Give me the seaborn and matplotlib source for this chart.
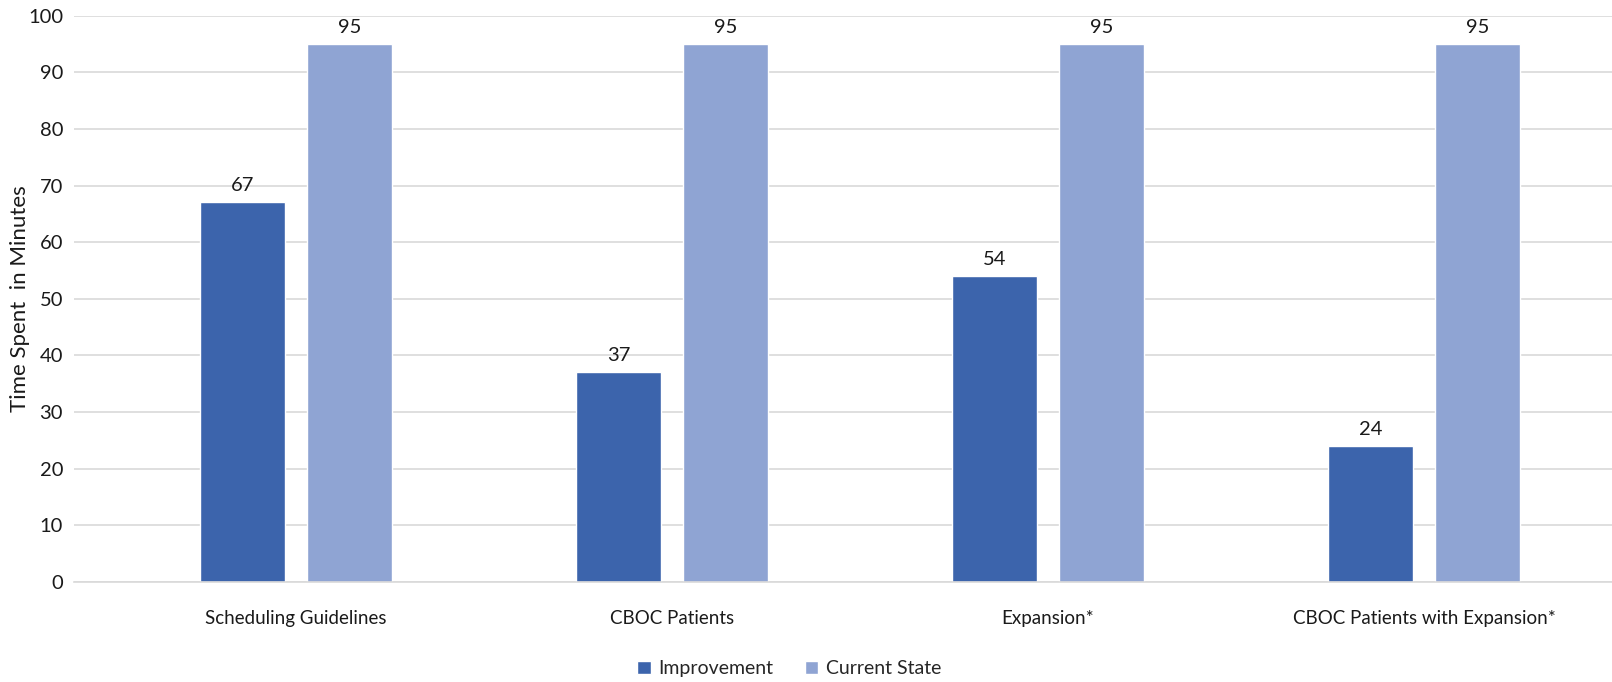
import pandas as pd
import numpy as np
import seaborn as sns
import matplotlib
matplotlib.use('Agg')
from matplotlib import pyplot as plt

categories = ['Scheduling Guidelines', 'CBOC Patients', 'Expansion*', 'CBOC Patients with Expansion*']
improvement = [67, 37, 54, 24]
current_state = [95, 95, 95, 95]
series = ['Improvement', 'Current State']
colors = ['#3C64AC', '#8FA4D3']

df = pd.DataFrame({
    'category': categories * 2,
    'value': improvement + current_state,
    'series': [series[0]] * 4 + [series[1]] * 4,
})

sns.set_style('white')
plt.rcParams['font.family'] = ['Lato', 'DejaVu Sans']

fig = plt.figure(figsize=(16.12, 6.82), dpi=100)
ax = fig.add_axes([0.046, 0.147, 0.954, 0.83])

sns.barplot(data=df, x='category', y='value', hue='series',
            palette=colors, width=0.57, gap=0.21, ax=ax,
            saturation=1, legend=True)

for c in ax.containers:
    ax.bar_label(c, fmt='%d', padding=6, fontsize=14.5, color='#1a1a1a')

ax.set_xlim(-0.59, 3.5)
ax.set_ylim(0, 100)
ax.set_yticks(range(0, 101, 10))
ax.yaxis.grid(True, color='#D9D9D9', linewidth=1.2)
ax.set_axisbelow(True)
for s in ['top', 'right', 'left']:
    ax.spines[s].set_visible(False)
ax.spines['bottom'].set_color('#D9D9D9')
ax.spines['bottom'].set_linewidth(1.2)
ax.tick_params(axis='both', length=0, labelsize=14.5, colors='#1a1a1a', pad=8)
ax.tick_params(axis='x', labelsize=13.5, pad=20)
ax.set_xlabel('')
ax.set_ylabel('Time Spent  in Minutes', fontsize=16, color='#1a1a1a')
ax.yaxis.set_label_coords(-0.029, 0.5)

ax.legend(loc='lower center', bbox_to_anchor=(0.465, -0.2), ncol=2, frameon=False,
          fontsize=14, handlelength=0.7, handleheight=0.7, columnspacing=1.6,
          handletextpad=0.4)

fig.savefig('out.png', dpi=100)
